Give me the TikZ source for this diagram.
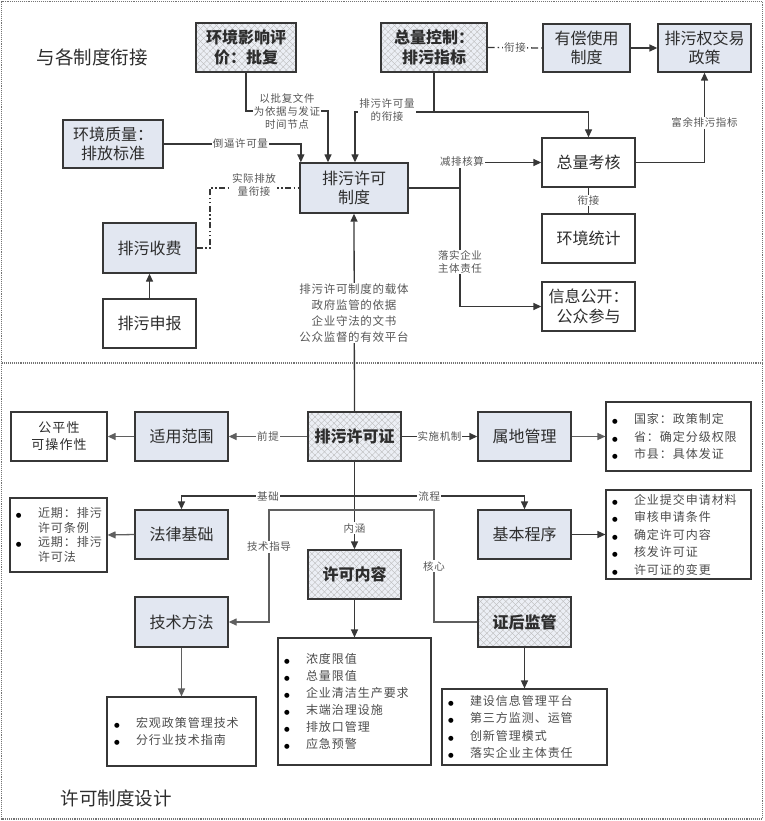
\documentclass[tikz,border=0pt]{standalone}
\usepackage{fontspec}
\setmainfont{Noto Sans CJK SC}
\newfontfamily\lstfont[LetterSpace=8]{Noto Sans CJK SC}
\newfontfamily\lblfont[LetterSpace=6]{Noto Sans CJK SC}
\newfontfamily\dejavu{DejaVu Sans}
\usetikzlibrary{arrows.meta,patterns.meta,calc}
\definecolor{boxblue}{RGB}{226,231,241}
\definecolor{hatchbg}{RGB}{236,239,245}
\definecolor{ink}{RGB}{45,45,45}
\definecolor{edge}{RGB}{55,55,55}
\definecolor{edgeg}{RGB}{95,95,95}
\newcommand\bul{\makebox[22pt][l]{\color{black}\dejavu\fontsize{6.5}{6.5}\selectfont ●}}
\newcommand\ind{\hspace*{22pt}}
\begin{document}
\begin{tikzpicture}[x=1pt,y=-1pt,
  base/.style={draw=edge,line width=1.3pt,align=center,inner sep=2pt,text=ink,
    font=\fontsize{16}{19.5}\selectfont},
  boxw/.style={base,fill=white},
  boxb/.style={base,fill=boxblue},
  boxh/.style={base,preaction={fill=hatchbg},
    preaction={pattern={Lines[angle=45,distance=4.5pt,line width=0.35pt]},pattern color=gray!55},
    preaction={pattern={Lines[angle=-45,distance=4.5pt,line width=0.35pt]},pattern color=gray!55},
    font=\fontsize{16}{19.5}\selectfont\bfseries},
  sz/.style 2 args={minimum width=#1pt,minimum height=#2pt},
  lst/.style={draw=edge,line width=1.1pt,fill=white,align=left,text=ink!85,inner xsep=6pt,inner ysep=0pt,
    font=\lstfont\fontsize{12}{17.5}\selectfont},
  lbl/.style={fill=white,inner sep=1pt,text=ink!80,align=center,
    font=\lblfont\fontsize{10.5}{13}\selectfont},
  ttl/.style={text=ink,font=\fontsize{18.5}{22}\selectfont},
  ln/.style={draw=edge,line width=1.3pt},
  lnG/.style={draw=edgeg,line width=1.3pt},
  arr/.style={-{Triangle[length=8pt,width=7pt]}},
  frame/.style={draw=gray!90!black,line width=1.1pt,densely dotted},
  dashdotline/.style={dash pattern=on 7pt off 3pt on 1.5pt off 3pt},
  dashdotdotline/.style={dash pattern=on 6pt off 2.5pt on 1.5pt off 2.5pt on 1.5pt off 2.5pt}
]
\useasboundingbox (0,0) rectangle (764,821);
\draw[frame] (1.5,1.5) rectangle (762.5,819);
\draw[frame] (1.5,363) -- (762.5,363);

% titles
\node[ttl] (t1) at (92,57) {与各制度衔接};
\node[ttl] (t2) at (116,798) {许可制度设计};

% ---------- top part ----------
\node[boxh,sz={100}{49}] (hjyx) at (246,47.5) {环境影响评\\价：批复};
\node[boxh,sz={106}{49}] (zlkz) at (434,47.5) {总量控制：\\排污指标};
\node[boxb,sz={87}{48}] (ycsy) at (586.5,48) {有偿使用\\制度};
\node[boxb,sz={93}{48}] (pwjy) at (704.5,48) {排污权交易\\政策};
\node[boxb,sz={100}{48}] (hjzl) at (113,144) {环境质量：\\排放标准};
\node[boxb,sz={108}{50}] (pwxkzd) at (354,188) {排污许可\\制度};
\node[boxw,sz={93}{49}] (zlkh) at (588.5,162.5) {总量考核};
\node[boxw,sz={93}{49}] (hjtj) at (588.5,238.5) {环境统计};
\node[boxw,sz={93}{49}] (xxgk) at (588.5,306.5) {信息公开：\\公众参与};
\node[boxb,sz={93}{50}] (pwsf) at (149.5,248) {排污收费};
\node[boxw,sz={93}{49}] (pwsb) at (149.5,323.5) {排污申报};

% top connectors
\draw[ln,dashdotline] (zlkz.east) -- (ycsy.west) node[lbl,midway] (lxj1) {衔接};
\draw[ln,arr] (ycsy.east) -- (pwjy.west);
\draw[ln,arr] (hjzl.east) -| ([xshift=1.5pt]pwxkzd.north west) node[lbl,pos=0.28] (lbb) {倒逼许可量};

\coordinate (b1) at (246,111);
\coordinate (b2) at (328,111);
\draw[ln,arr] (hjyx.south) -- (b1) -- (b2) -- (b2 |- pwxkzd.north);
\node[lbl] (lpf) at (287,111) {以批复文件\\为依据与发证\\时间节点};

\coordinate (c1) at (434,112);
\coordinate (c2) at (355,112);
\coordinate (c3) at (588.5,112);
\draw[ln] (zlkz.south) -- (c1);
\draw[ln,arr] (c1) -- (c2) -- (c2 |- pwxkzd.north);
\draw[ln,arr] (c1) -- (c3) -- (zlkh.north);
\node[lbl] (lxkl) at (387,110) {排污许可量\\的衔接};

\coordinate (j1) at (460,188);
\draw[ln] (pwxkzd.east) -- (j1);
\draw[ln,arr] (j1) |- (zlkh.west);
\draw[ln,arr] (j1) |- (xxgk.west);
\node[lbl] (ljp) at (462,162) {减排核算};
\node[lbl] (lls) at (460,262) {落实企业\\主体责任};

\draw[ln,arr] (zlkh.east) -| (pwjy.south) node[lbl,pos=0.72] (lfy) {富余排污指标};
\draw[ln] (zlkh.south) -- (hjtj.north) node[lbl,midway] (lxj2) {衔接};

\draw[ln,arr] (pwsb.north) -- (pwsf.south);
\coordinate (d1) at (210,248);
\draw[ln,dashdotdotline] (pwsf.east) -- (d1) |- (pwxkzd.west);
\node[lbl] (lsj) at (254,185) {实际排放\\量衔接};

% ---------- bottom part ----------
\node[boxh,sz={93}{49}] (pwxkz) at (354.5,436.5) {排污许可证};
\node[boxb,sz={93}{49}] (syfw) at (181.5,436.5) {适用范围};
\node[boxw,sz={96}{49},font=\lstfont\fontsize{13}{17}\selectfont] (gpx) at (59,436.5) {公平性\\可操作性};
\node[boxb,sz={93}{49}] (sdgl) at (524.5,436.5) {属地管理};
\node[lst,sz={145}{69},text width=133pt] (list1) at (678.5,436.5)
  {\bul 国家：政策制定\\\bul 省：确定分级权限\\\bul 市县：具体发证};
\node[boxb,sz={93}{49}] (flj) at (181.5,534.5) {法律基础};
\node[lst,sz={97}{74},text width=85pt,font=\lstfont\fontsize{12}{14.7}\selectfont] (list2) at (58.5,535)
  {\bul 近期：排污\\\ind 许可条例\\\bul 远期：排污\\\ind 许可法};
\node[boxh,sz={93}{49}] (xknr) at (354.5,574.5) {许可内容};
\node[boxb,sz={93}{49}] (jbcx) at (524.5,534.5) {基本程序};
\node[lst,sz={145}{89},text width=133pt] (list3) at (678.5,534.5)
  {\bul 企业提交申请材料\\\bul 审核申请条件\\\bul 确定许可内容\\\bul 核发许可证\\\bul 许可证的变更};
\node[boxb,sz={93}{50}] (jsff) at (181.5,622) {技术方法};
\node[boxh,sz={93}{50}] (zhjg) at (524.5,622) {证后监管};
\node[lst,sz={153}{127},text width=141pt,font=\lstfont\fontsize{12}{17}\selectfont] (list4) at (354.5,701.5)
  {\bul 浓度限值\\\bul 总量限值\\\bul 企业清洁生产要求\\\bul 末端治理设施\\\bul 排放口管理\\\bul 应急预警};
\node[lst,sz={147}{69},text width=135pt,inner xsep=7pt] (list5) at (181.5,731.5)
  {\bul 宏观政策管理技术\\\bul 分行业技术指南};
\node[lst,sz={165}{76},text width=153pt,font=\lstfont\fontsize{12}{17.5}\selectfont] (list6) at (524.5,727)
  {\bul 建设信息管理平台\\\bul 第三方监测、运管\\\bul 创新管理模式\\\bul 落实企业主体责任};

% link between parts
\draw[ln,arr] (pwxkz.north) -- (pwxkzd.south);
\node[lbl,font=\lblfont\fontsize{11.5}{16}\selectfont] (lzt) at (354,313)
  {排污许可制度的载体\\政府监管的依据\\企业守法的文书\\公众监督的有效平台};

% bottom connectors
\draw[lnG,arr] (pwxkz.west) -- (syfw.east) node[lbl,midway] (lqt) {前提};
\draw[lnG,arr] (syfw.west) -- (gpx.east);
\draw[ln,arr] (pwxkz.east) -- (sdgl.west) node[lbl,midway] (lss) {实施机制};
\draw[lnG,arr] (sdgl.east) -- (list1.west);

\draw[ln,arr] (pwxkz.south) -- (xknr.north) node[lbl,pos=0.76] (lnh) {内涵};
\coordinate (h0) at (354.5,496);
\draw[ln,arr] (h0) -| (flj.north) node[lbl,pos=0.25] (ljc) {基础};
\draw[ln,arr] (h0) -| (jbcx.north) node[lbl,pos=0.22] (llc) {流程};

\coordinate (k0) at (354.5,510);
\coordinate (k1) at (269,510);
\coordinate (k2) at (434,510);
\draw[lnG,arr] (k0) -- (k1) |- (jsff.east);
\draw[lnG] (k0) -- (k2) |- (zhjg.west);
\node[lbl] (ljs) at (269,547) {技术指导};
\node[lbl] (lhx) at (434,566) {核心};

\draw[lnG,arr] (flj.west) -- (list2.east);
\draw[ln,arr] (jbcx.east) -- (list3.west);
\draw[ln,arr] (xknr.south) -- (list4.north);
\draw[lnG,arr] (jsff.south) -- (list5.north);
\draw[ln,arr] (zhjg.south) -- (list6.north);
\end{tikzpicture}
\end{document}
